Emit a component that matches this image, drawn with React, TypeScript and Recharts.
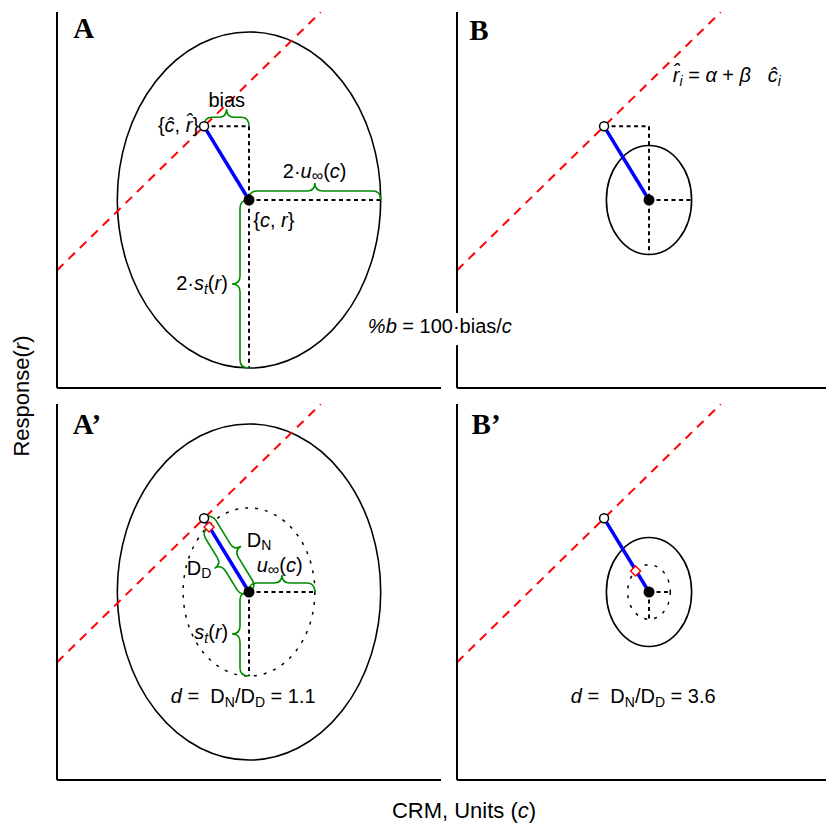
import React from 'react';
import {
  ComposedChart, XAxis, YAxis, Line, Scatter,
  ReferenceLine, ReferenceArea, ReferenceDot
} from 'recharts';

// both panels in a row share the same axes: CRM value c and response r (0-100)
const fitLine = [{ c: 0, r: 31.3 }, { c: 68.7, r: 100 }]; // r^ = a + b c^
const estimatePt = [{ c: 38.3, r: 69.6 }];                // {c^, r^}
const certifiedPt = [{ c: 50, r: 50 }];                   // {c, r}
const halfWidthC = [34.3, 11.1];   // 2*u(c) for the A / B materials
const halfHeightR = [44.7, 14.5];  // 2*s_t(r)
const projectedPts = [[{ c: 39.6, r: 67.3 }], [{ c: 46.5, r: 55.6 }]];
const dRatios = ['1.1', '3.6'];
const panelTags = ['A', 'B', 'A\u2019', 'B\u2019'];

const SANS = '"Liberation Sans", Arial, Helvetica, sans-serif';
const SERIF = '"Liberation Serif", "Times New Roman", serif';
const GREEN = '#008b00';
const DOT = '4 3.5';
const axisStyle = { stroke: '#000', strokeWidth: 2 };

const braceShape = (side: number, depth = 9, tip = 8) => (p: any) => {
  const { x1, y1, x2, y2 } = p;
  const dx = x2 - x1, dy = y2 - y1;
  const L = Math.hypot(dx, dy);
  const ux = dx / L, uy = dy / L;
  const nx = uy * side, ny = -ux * side;
  const P = (s: number, t: number) => `${x1 + ux * s + nx * t},${y1 + uy * s + ny * t}`;
  const q = Math.min(8, L / 4);
  const d = `M${P(0, 0)} Q${P(0, depth)} ${P(q, depth)} L${P(L / 2 - q, depth)} ` +
    `Q${P(L / 2, depth)} ${P(L / 2, depth + tip)} Q${P(L / 2, depth)} ${P(L / 2 + q, depth)} ` +
    `L${P(L - q, depth)} Q${P(L, depth)} ${P(L, 0)}`;
  return <path d={d} fill="none" stroke={GREEN} strokeWidth={1.6} />;
};

const ellipseShape = (dashed: boolean) => (p: any) => (
  <ellipse
    cx={p.x + p.width / 2} cy={p.y + p.height / 2}
    rx={Math.abs(p.width) / 2} ry={Math.abs(p.height) / 2}
    fill="none" stroke="#000" strokeWidth={dashed ? 1.5 : 1.6}
    strokeDasharray={dashed ? '3 7' : undefined}
  />
);

const filledShape = (p: any) => <circle cx={p.cx} cy={p.cy} r={5.5} fill="#000" />;
const openShape = (p: any) => <circle cx={p.cx} cy={p.cy} r={4.5} fill="#fff" stroke="#000" strokeWidth={1.5} />;
const diamondShape = (p: any) => (
  <path d={`M${p.cx},${p.cy - 5} L${p.cx + 5},${p.cy} L${p.cx},${p.cy + 5} L${p.cx - 5},${p.cy} Z`}
    fill="#fff" stroke="#ff0000" strokeWidth={1.5} />
);

const label = (key: string, c: number, r: number, anchor: string, content: React.ReactNode, extra: any = {}) => (
  <ReferenceDot key={key} x={c} y={r} r={0} ifOverflow="visible"
    shape={(p: any) => (
      <text x={p.cx} y={p.cy} textAnchor={anchor} fontFamily={SANS} fontSize={20} fill="#000"
        style={{ whiteSpace: 'pre' }} {...extra}>{content}</text>
    )} />
);

const tag = (t: string, c: number, r: number) =>
  label('tag', c, r, 'start', t, { fontFamily: SERIF, fontWeight: 'bold', fontSize: 29 });

const dotted = (key: string, a: any, b: any) => (
  <ReferenceLine key={key} segment={[{ x: a.c, y: a.r }, { x: b.c, y: b.r }]}
    stroke="#000" strokeWidth={2} strokeDasharray={DOT} ifOverflow="visible" />
);

const brace = (key: string, a: any, b: any, side: number) => (
  <ReferenceLine key={key} segment={[{ x: a.c, y: a.r }, { x: b.c, y: b.r }]}
    ifOverflow="visible" shape={braceShape(side)} />
);

const It = ({ children }: any) => <tspan fontStyle="italic">{children}</tspan>;

const dLabel = (k: number) => label('dlab', 48.5, 20.5, 'middle', [
  <tspan key="a" fontStyle="italic">d</tspan>,
  <tspan key="b">{' =  D'}</tspan>,
  <tspan key="c" fontSize={14} dy={4}>N</tspan>,
  <tspan key="d" dy={-4}>/D</tspan>,
  <tspan key="e" fontSize={14} dy={4}>D</tspan>,
  <tspan key="f" dy={-4}>{` = ${dRatios[k]}`}</tspan>,
]);

const ellipseOf = (key: string, k: number, scale: number, dashed: boolean) => {
  const c = certifiedPt[0];
  const rx = halfWidthC[k] * scale, ry = halfHeightR[k] * scale;
  return <ReferenceArea key={key} x1={c.c - rx} x2={c.c + rx} y1={c.r - ry} y2={c.r + ry}
    ifOverflow="visible" shape={ellipseShape(dashed)} />;
};

// panels A and B: uncertainty ellipse with the bias box
const topMarks = (k: number) => {
  const e = estimatePt[0], c = certifiedPt[0];
  const rx = halfWidthC[k], ry = halfHeightR[k];
  return [
    ellipseOf('ell', k, 1, false),
    dotted('d1', e, { c: c.c, r: e.r }),
    dotted('d2', { c: c.c, r: e.r }, { c: c.c, r: c.r - ry }),
    dotted('d3', c, { c: c.c + rx, r: c.r }),
  ];
};

// panels A' and B': ellipse plus the half-size dotted one
const bottomMarks = (k: number) => {
  const c = certifiedPt[0];
  const rx = halfWidthC[k] / 2, ry = halfHeightR[k] / 2;
  return [
    ellipseOf('ell', k, 1, false),
    ellipseOf('ell2', k, 0.5, true),
    dotted('d2', c, { c: c.c, r: c.r - ry }),
    dotted('d3', c, { c: c.c + rx, r: c.r }),
  ];
};

const seriesMarks = (k: number, withProj: boolean) => [
  <Line key="fit" data={fitLine} dataKey="r" stroke="#ff0000" strokeWidth={2} strokeDasharray="9 7"
    dot={false} activeDot={false} isAnimationActive={false} />,
  <Line key="dev" data={[estimatePt[0], certifiedPt[0]]} dataKey="r" stroke="#0000ff" strokeWidth={3.5}
    dot={false} activeDot={false} isAnimationActive={false} />,
  withProj ? <Scatter key="proj" data={projectedPts[k]} dataKey="r" shape={diamondShape} isAnimationActive={false} /> : null,
  <Scatter key="est" data={estimatePt} dataKey="r" shape={openShape} isAnimationActive={false} />,
  <Scatter key="cert" data={certifiedPt} dataKey="r" shape={filledShape} isAnimationActive={false} />,
];

const Panel = ({ left, top, width, z = 1, children }: any) => (
  <div style={{ position: 'absolute', left, top, zIndex: z }}>
    <ComposedChart width={width} height={400} margin={{ top: 12, right: width - 441, bottom: 10, left: 55 }}>
      <XAxis type="number" dataKey="c" domain={[0, 100]} allowDataOverflow tick={false} tickLine={false}
        axisLine={axisStyle} height={2} />
      <YAxis type="number" dataKey="r" domain={[0, 100]} allowDataOverflow tick={false} tickLine={false}
        axisLine={axisStyle} width={2} />
      {children}
    </ComposedChart>
  </div>
);

export default function App() {
  const e = estimatePt[0], c = certifiedPt[0];
  return (
    <div style={{ position: 'absolute', left: 0, top: 0, width: 826, height: 828, overflow: 'hidden', background: '#fff' }}>
      {/* A */}
      <Panel left={0} top={0} width={560} z={2}>
        {topMarks(0)}
        {brace('b1', e, { c: c.c, r: e.r }, 1)}
        {brace('b2', c, { c: c.c + halfWidthC[0], r: c.r }, 1)}
        {brace('b3', c, { c: c.c, r: c.r - halfHeightR[0] }, -1)}
        {seriesMarks(0, false)}
        {tag(panelTags[0], 4.2, 93)}
        {label('bias', 44.2, 74.7, 'middle', 'bias')}
        {label('est', 37, 68.1, 'end', ['{', <It key="c">{'\u0109'}</It>, ', ', <It key="r">{'r\u0302'}</It>, '}'])}
        {label('u', 67.1, 55.85, 'middle', [
          <tspan key="a">2·</tspan>, <It key="u">u</It>,
          <tspan key="i" fontSize={16} dy={3}>∞</tspan>, <tspan key="p" dy={-3}>(</tspan>, <It key="c">c</It>, ')'])}
        {label('cr', 51.1, 42.9, 'start', ['{', <It key="c">c</It>, ', ', <It key="r">r</It>, '}'])}
        {label('s', 44.5, 26.1, 'end', [
          <tspan key="a">2·</tspan>, <It key="s">s</It>,
          <tspan key="t" fontSize={14} dy={4} fontStyle="italic">t</tspan>, <tspan key="p" dy={-4}>(</tspan>,
          <It key="r">r</It>, ')'])}
        <ReferenceDot key="pb" x={99.7} y={14.6} r={0} ifOverflow="visible"
          shape={(p: any) => (
            <g>
              <rect x={p.cx - 76} y={p.cy - 20} width={152} height={32} fill="#fff" />
              <text x={p.cx} y={p.cy} textAnchor="middle" fontFamily={SANS} fontSize={20} style={{ whiteSpace: 'pre' }}>
                <tspan fontStyle="italic">%b</tspan>{' = 100·bias/'}<tspan fontStyle="italic">c</tspan>
              </text>
            </g>
          )} />
      </Panel>

      {/* B */}
      <Panel left={400} top={0} width={460}>
        {topMarks(1)}
        {seriesMarks(1, false)}
        {tag(panelTags[1], 3.2, 92.6)}
        {label('eq', 56.2, 81.4, 'start', [
          <It key="r">{'r\u0302'}</It>,
          <tspan key="i" fontSize={14} dy={4} fontStyle="italic">i</tspan>,
          <tspan key="e" dy={-4}>{' = '}</tspan>, <It key="a">α</It>, ' + ', <It key="b">β</It>, '   ',
          <It key="c">{'\u0109'}</It>,
          <tspan key="j" fontSize={14} dy={4} fontStyle="italic">i</tspan>])}
      </Panel>

      {/* A' */}
      <Panel left={0} top={392} width={560}>
        {bottomMarks(0)}
        {brace('bn', e, c, 1)}
        {brace('bd', projectedPts[0][0], c, -1)}
        {brace('bu', c, { c: c.c + halfWidthC[0] / 2, r: c.r }, 1)}
        {brace('bs', c, { c: c.c, r: c.r - halfHeightR[0] / 2 }, -1)}
        {seriesMarks(0, true)}
        {tag(panelTags[2], 4.1, 92.1)}
        {label('dn', 49.4, 62, 'start', ['D', <tspan key="n" fontSize={14} dy={3}>N</tspan>])}
        {label('dd', 33.8, 54.65, 'start', ['D', <tspan key="n" fontSize={14} dy={3}>D</tspan>])}
        {label('u', 52, 55.2, 'start', [
          <It key="u">u</It>, <tspan key="i" fontSize={16} dy={3}>∞</tspan>,
          <tspan key="p" dy={-3}>(</tspan>, <It key="c">c</It>, ')'])}
        {label('s', 44.6, 37.4, 'end', [
          <It key="s">s</It>, <tspan key="t" fontSize={14} dy={4} fontStyle="italic">t</tspan>,
          <tspan key="p" dy={-4}>(</tspan>, <It key="r">r</It>, ')'])}
        {dLabel(0)}
      </Panel>

      {/* B' */}
      <Panel left={400} top={392} width={460}>
        {bottomMarks(1)}
        {seriesMarks(1, true)}
        {tag(panelTags[3], 3.8, 92.1)}
        {dLabel(1)}
      </Panel>

      <svg width={826} height={828} style={{ position: 'absolute', left: 0, top: 0, zIndex: 3, pointerEvents: 'none' }}>
        <text transform="translate(29,396) rotate(-90)" textAnchor="middle" fontFamily={SANS} fontSize={22}>
          Response(<tspan fontStyle="italic">r</tspan>)
        </text>
        <text x={464} y={818} textAnchor="middle" fontFamily={SANS} fontSize={22}>
          CRM, Units (<tspan fontStyle="italic">c</tspan>)
        </text>
      </svg>
    </div>
  );
}
